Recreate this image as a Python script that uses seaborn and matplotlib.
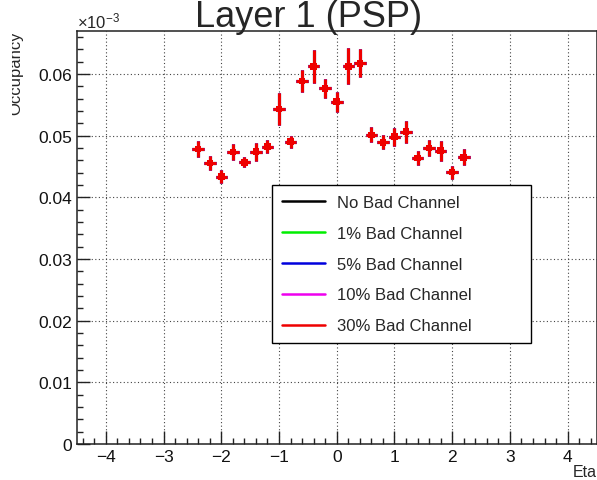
import numpy as np
import pandas as pd
import matplotlib
matplotlib.use("Agg")
import matplotlib.pyplot as plt
from matplotlib.ticker import MultipleLocator, FuncFormatter
from matplotlib.lines import Line2D
from matplotlib.transforms import Bbox
import seaborn as sns

# ---- data ----
eta = [-2.4, -2.2, -2.0, -1.8, -1.6, -1.4, -1.2, -1.0, -0.8, -0.6, -0.4, -0.2,
       0.0, 0.2, 0.4, 0.6, 0.8, 1.0, 1.2, 1.4, 1.6, 1.8, 2.0, 2.2]
occupancy = [0.04781, 0.04554, 0.04335, 0.04733, 0.04566, 0.04741, 0.04822, 0.05429,
             0.04903, 0.05888, 0.06122, 0.05765, 0.05551, 0.06122, 0.06170, 0.05010,
             0.04890, 0.04984, 0.05062, 0.04635, 0.04797, 0.04754, 0.04408, 0.04647]
occ_err = [0.00135, 0.00109, 0.00109, 0.00125, 0.00081, 0.00146, 0.00102, 0.00259,
           0.00097, 0.00178, 0.00270, 0.00157, 0.00162, 0.00292, 0.00227, 0.00122,
           0.00113, 0.00146, 0.00178, 0.00113, 0.00130, 0.00162, 0.00105, 0.00130]
series = ["No Bad Channel", "1% Bad Channel", "5% Bad Channel", "10% Bad Channel", "30% Bad Channel"]
colors = ["#000000", "#00ee00", "#0000dd", "#ee00ee", "#ee0000"]
bin_half_width = 0.1

df = pd.DataFrame({
    "Eta": np.tile(eta, len(series)),
    "Occupancy": np.tile(occupancy, len(series)),
    "err": np.tile(occ_err, len(series)),
    "series": np.repeat(series, len(eta)),
})

sns.set_theme(style="white")
plt.rcParams["font.family"] = ["Liberation Sans", "DejaVu Sans"]
plt.rcParams["mathtext.fontset"] = "custom"
plt.rcParams["mathtext.rm"] = "Liberation Sans"
plt.rcParams["mathtext.it"] = "Liberation Sans"

W, H = 597, 481
fig = plt.figure(figsize=(W / 100, H / 100), dpi=100)
ax_l, ax_r, ax_t, ax_b = 77, 596.5, 31.7, 445
ax = fig.add_axes([ax_l / W, 1 - ax_b / H, (ax_r - ax_l) / W, (ax_b - ax_t) / H])

for name, col in zip(series, colors):
    sub = df[df["series"] == name]
    ax.errorbar(sub["Eta"], sub["Occupancy"], yerr=sub["err"], xerr=bin_half_width,
                fmt="none", ecolor=col, elinewidth=2.2, capsize=0, zorder=3)
sns.scatterplot(data=df, x="Eta", y="Occupancy", hue="series", palette=colors,
                marker="s", s=22, edgecolor="none", legend=False, ax=ax, zorder=4)

ax.set_xlim(-4.5, 4.5)
ax.set_ylim(0, 0.067)
ax.set_xlabel("")
ax.set_ylabel("")

ax.xaxis.set_major_locator(MultipleLocator(1))
ax.xaxis.set_minor_locator(MultipleLocator(0.2))
ax.yaxis.set_major_locator(MultipleLocator(0.01))
ax.yaxis.set_minor_locator(MultipleLocator(0.002))
ax.yaxis.set_major_formatter(FuncFormatter(lambda v, p: "0" if abs(v) < 1e-12 else f"{v:.2f}"))
ax.xaxis.set_major_formatter(FuncFormatter(lambda v, p: f"{int(round(v))}".replace("-", "\u2212")))

ax.tick_params(which="both", direction="in", left=True, bottom=True, top=False, right=False,
               colors="#222222", labelcolor="#111111")
ax.tick_params(which="major", length=9.5, width=1.0, labelsize=12.5, pad=3.5)
ax.tick_params(which="minor", length=4.5, width=1.0)

ax.grid(True, which="major", linestyle=(0, (1, 2.2)), color="#444444", linewidth=0.8)
ax.set_axisbelow(True)
for sp in ax.spines.values():
    sp.set_color("#222222")
    sp.set_linewidth(1.1)

# legend
handles = [Line2D([0], [0], color=c, lw=1.8) for c in colors]
lg_l, lg_r, lg_t, lg_b = 271.7, 531, 186, 341.7
leg = fig.legend(handles, series, loc="upper left",
                 bbox_to_anchor=(lg_l / W, 1 - lg_b / H, (lg_r - lg_l) / W, (lg_b - lg_t) / H),
                 mode="expand", fontsize=12, frameon=True, fancybox=False,
                 edgecolor="black", framealpha=1, handlelength=2.6, handletextpad=0.7,
                 labelspacing=0.95, borderpad=0.6, borderaxespad=0)
leg.get_frame().set_linewidth(1.0)

# title and axis titles
fig.text(309 / W, 1 - 27 / H, "Layer 1 (PSP)", ha="center", va="baseline", fontsize=26)
fig.text(ax_l / W, 1 - 28 / H, r"$\times10^{-3}$", ha="left", va="baseline", fontsize=12)
fig.text(ax_r / W, 1 - 477 / H, "Eta", ha="right", va="baseline", fontsize=11.5)
yl = fig.text(20 / W, 1 - ax_t / H, "Occupancy", ha="right", va="baseline", rotation=90,
              rotation_mode="anchor", fontsize=12)
yl.set_clip_box(Bbox.from_extents(12, 0, W, H))
yl.set_clip_on(True)

fig.savefig("out.png", dpi=100)
